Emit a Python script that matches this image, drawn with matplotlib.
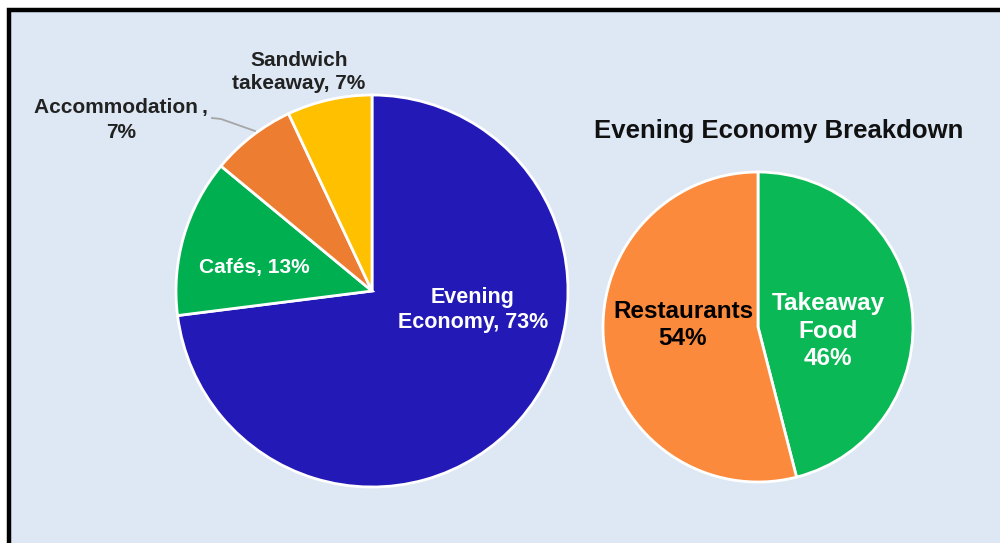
import matplotlib.pyplot as plt
from matplotlib.patches import Rectangle

plt.rcParams['font.family'] = ['Liberation Sans', 'DejaVu Sans']
plt.rcParams['font.weight'] = 'bold'

# main split of the high street
main_labels = ["Evening\nEconomy", "Cafés", "Accommodation\u2009", "Sandwich\ntakeaway"]
main_values = [73, 13, 7, 7]
main_colors = ["#2319b7", "#00b050", "#ed7d31", "#ffc000"]

# evening economy breakdown
sub_labels = ["Takeaway\nFood", "Restaurants"]
sub_values = [46, 54]
sub_colors = ["#0bb856", "#fb8a3c"]

bg = "#dde8f4"

fig = plt.figure(figsize=(10, 5.43), dpi=100)
fig.patch.set_facecolor("white")
ax = fig.add_axes([0, 0, 1, 1])

# panel with a black frame (right/bottom edges run off the canvas)
ax.add_patch(Rectangle((9, -20), 1020, 553, facecolor=bg, edgecolor="black",
                       linewidth=3.2, zorder=0))

wedge_style = dict(edgecolor="white", linewidth=2)

ax.pie(main_values, colors=main_colors, startangle=90, counterclock=False,
       center=(372, 252), radius=196, wedgeprops=wedge_style, frame=True)
ax.pie(sub_values, colors=sub_colors, startangle=90, counterclock=False,
       center=(758, 216), radius=155, wedgeprops=wedge_style, frame=True)
ax.set_xlim(0, 1000)
ax.set_ylim(0, 543)
ax.set_aspect("equal")
ax.axis("off")

fs = 15
ax.text(473, 233, f"{main_labels[0]}, {main_values[0]}%", color="white",
        fontsize=15.5, ha="center", va="center", linespacing=1.3)
ax.text(254, 276, f"{main_labels[1]}, {main_values[1]}%", color="white",
        fontsize=fs, ha="center", va="center")
ax.text(121, 423, f"{main_labels[2]},\n{main_values[2]}%", color="#222222",
        fontsize=fs, ha="center", va="center", linespacing=1.4)
ax.text(299, 471, f"{main_labels[3]}, {main_values[3]}%", color="#222222",
        fontsize=fs, ha="center", va="center", linespacing=1.25)

# leader line for the accommodation slice
ax.plot([212, 221, 255], [425, 424, 412], color="#a6a6a6", linewidth=1.3)

ax.text(779, 412, "Evening Economy Breakdown", fontsize=18.5,
        ha="center", va="center", color="#111111")

ax.text(828, 212, f"{sub_labels[0]}\n{sub_values[0]}%", color="white",
        fontsize=17.5, ha="center", va="center", linespacing=1.25)
ax.text(683, 218, f"{sub_labels[1]}\n{sub_values[1]}%", color="black",
        fontsize=17.5, ha="center", va="center", linespacing=1.25)

fig.savefig("out.png", dpi=100, facecolor=fig.get_facecolor())
